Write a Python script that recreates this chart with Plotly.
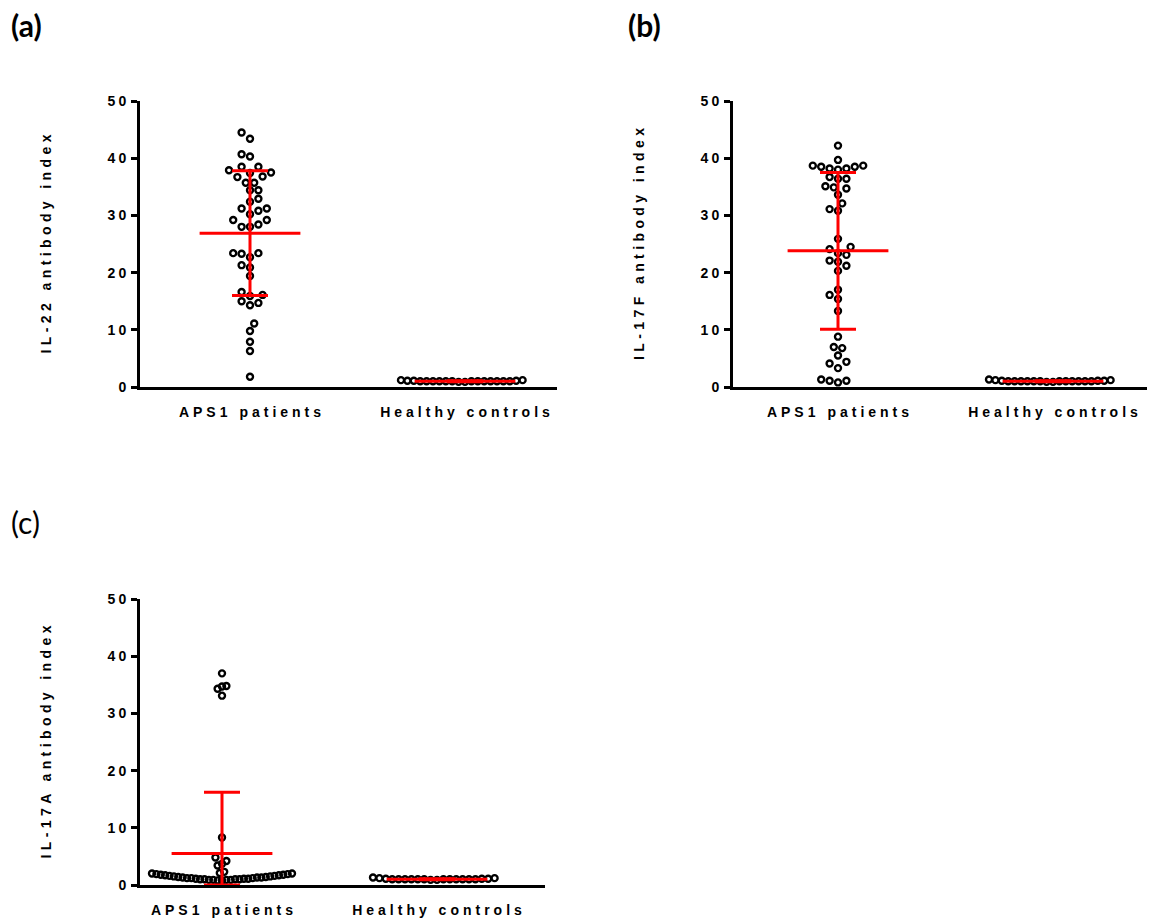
import numpy as np
import plotly.graph_objects as go

W, H = 1166, 923

categories = ["APS1 patients", "Healthy controls"]
y_titles = ["IL-22 antibody index", "IL-17F antibody index", "IL-17A antibody index"]
panel_labels = ["(a)", "(b)", "(c)"]
y_ticks = [0, 10, 20, 30, 40, 50]

il22_aps1 = [44.5, 43.4, 40.7, 40.3, 38.5, 38.5, 37.5, 37.9, 36.8, 36.7, 37.4,
             35.7, 35.7, 34.4, 34.4, 32.9, 32.4, 31.2, 31.2, 30.8, 30.2, 29.2,
             29.2, 28.0, 28.0, 28.4, 23.4, 23.4, 23.3, 22.7, 21.3, 20.9, 19.4,
             15.9, 16.6, 16.1, 15.0, 14.3, 14.7, 11.1, 9.8, 7.9, 6.3, 1.8]
il22_healthy = [0.9, 1.0, 1.0, 1.0, 1.0, 1.0, 1.0, 1.1, 1.1, 1.2, 1.2, 1.1,
                1.0, 1.0, 1.0, 1.0, 1.0, 0.9, 1.0, 1.0]

il17f_aps1 = [42.2, 39.7, 38.7, 38.5, 38.2, 38.0, 38.2, 38.5, 38.7, 36.4, 36.7,
              36.4, 34.7, 35.1, 34.9, 33.6, 32.1, 30.8, 31.1, 25.9, 24.1, 24.5,
              23.1, 23.4, 21.9, 22.1, 21.2, 20.3, 17.0, 16.1, 15.4, 13.3, 8.8,
              7.0, 6.8, 5.5, 4.1, 4.4, 3.3, 1.1, 0.8, 1.1, 1.3]
il17f_healthy = [0.9, 1.0, 1.0, 1.0, 1.0, 1.0, 1.1, 1.1, 1.2, 1.2, 1.3, 1.1,
                 1.0, 1.0, 1.0, 1.0, 1.0, 0.9, 1.0, 1.0]

il17a_aps1 = [37.0, 34.8, 34.3, 34.7, 33.1, 8.3, 4.8, 4.2, 3.4, 3.7, 2.3,
              0.8, 0.8, 0.9, 0.9, 0.9, 0.9, 1.0, 1.0, 1.0, 1.0, 1.1, 1.1,
              1.1, 1.2, 1.2, 1.2, 1.3, 1.3, 1.3, 1.4, 1.4, 1.5, 1.5, 1.6,
              1.6, 1.7, 1.7, 1.8, 1.8, 1.9, 1.9, 2.0, 2.0, 2.1]
il17a_healthy = [0.9, 1.0, 1.0, 1.0, 1.0, 1.0, 1.0, 1.1, 1.1, 1.2, 1.3, 1.2,
                 1.1, 1.0, 1.0, 1.0, 1.0, 0.9, 1.0, 1.0]

# mean and SD as drawn in the reference (red lines)
il22_mean = [26.9, 1.0]
il22_sd = [10.9, 0.1]
il17f_mean = [23.8, 1.0]
il17f_sd = [13.7, 0.1]
il17a_mean = [5.5, 1.0]
il17a_sd = [10.7, 0.1]

panels = [
    dict(groups=[il22_aps1, il22_healthy], mean=il22_mean, sd=il22_sd,
         xdom=(140, 557), ydom=(101, 387), cat_px=(250, 465), label_pos=(9, 25), label_bold=True),
    dict(groups=[il17f_aps1, il17f_healthy], mean=il17f_mean, sd=il17f_sd,
         xdom=(733, 1147), ydom=(101, 387), cat_px=(838, 1053), label_pos=(626, 25), label_bold=True),
    dict(groups=[il17a_aps1, il17a_healthy], mean=il17a_mean, sd=il17a_sd,
         xdom=(140, 545), ydom=(599, 885), cat_px=(222, 437), label_pos=(9, 522), label_bold=False),
]

PX_PER_CAT = 215.0
MARK_D = 8.4


def swarm_offsets(values, px_per_unit, d, step, max_half):
    vals = np.asarray(values, float)
    order = np.argsort(vals, kind="stable")
    placed = []
    off = np.zeros(len(vals))
    for n, i in enumerate(order):
        y = vals[i] * px_per_unit
        sign = 1 if n % 2 == 0 else -1
        k = 0
        found = None
        while found is None:
            cands = [0.0] if k == 0 else [sign * k * step, -sign * k * step]
            for c in cands:
                if all((c - px) ** 2 + (y - py) ** 2 >= d * d - 1e-6 for px, py in placed):
                    found = c
                    break
            k += 1
        placed.append((found, y))
        off[i] = found
    m = np.abs(off).max()
    if m > max_half:
        off *= max_half / m
    return off


def spaced(s, sp=4):
    return '<span style="letter-spacing:%spx">%s</span>%s' % (sp, s[:-1], s[-1])


fig = go.Figure()
tick_font = dict(family="Liberation Sans, Arial, sans-serif", size=14, color="black", weight="bold")

for p_i, p in enumerate(panels):
    sfx = "" if p_i == 0 else str(p_i + 1)
    xa, ya = "x" + sfx, "y" + sfx
    y_px_per_unit = (p["ydom"][1] - p["ydom"][0]) / 50.0
    c0 = p["cat_px"][0]
    x_lo = (p["xdom"][0] - c0) / PX_PER_CAT
    x_hi = (p["xdom"][1] - c0) / PX_PER_CAT

    for g_i, vals in enumerate(p["groups"]):
        max_half = 70 if (p_i == 2 and g_i == 0) else (64 if g_i == 1 else 1000)
        offs = swarm_offsets(vals, y_px_per_unit, MARK_D, MARK_D / 2, max_half)
        xs = g_i + offs / PX_PER_CAT
        fig.add_trace(go.Scatter(
            x=xs, y=vals, mode="markers", xaxis=xa, yaxis=ya,
            marker=dict(symbol="circle-open", size=6.0, color="black",
                        line=dict(color="black", width=2.4)),
            cliponaxis=False, showlegend=False, hoverinfo="y"))

    means = p["mean"]
    sds = p["sd"]
    minus = [min(s, m) for m, s in zip(means, sds)]
    fig.add_trace(go.Scatter(
        x=[0, 1], y=means, mode="markers", xaxis=xa, yaxis=ya,
        marker=dict(symbol="line-ew", size=72, color="red",
                    line=dict(color="red", width=3)),
        error_y=dict(type="data", array=sds, arrayminus=minus, symmetric=False,
                     color="red", thickness=3, width=18),
        cliponaxis=False, showlegend=False, hoverinfo="y"))

    xd = [p["xdom"][0] / W, p["xdom"][1] / W]
    yd = [1 - p["ydom"][1] / H, 1 - p["ydom"][0] / H]
    fig.update_layout(**{
        ("xaxis" + sfx): dict(
            domain=xd, range=[x_lo, x_hi], anchor=ya, showgrid=False, zeroline=False,
            showline=True, linecolor="black", linewidth=3, ticks="",
            tickvals=[0, 1], ticktext=[spaced(c) for c in categories],
            tickfont=tick_font, ticklabelstandoff=10, automargin=False, fixedrange=True),
        ("yaxis" + sfx): dict(
            domain=yd, range=[0, 50], anchor=xa, showgrid=False, zeroline=False,
            showline=True, linecolor="black", linewidth=3, ticks="outside",
            ticklen=6, tickwidth=3, tickcolor="black",
            tickvals=y_ticks, ticktext=[spaced(str(t), 3) if len(str(t)) > 1 else str(t) for t in y_ticks],
            tickfont=tick_font, ticklabelstandoff=2, automargin=False, fixedrange=True,
            title=dict(text=spaced(y_titles[p_i], 4.4), font=tick_font, standoff=53)),
    })

    lab = panel_labels[p_i]
    fig.add_annotation(
        x=p["label_pos"][0] / W, y=1 - p["label_pos"][1] / H, xref="paper", yref="paper",
        xanchor="left", yanchor="middle", showarrow=False,
        text=("<b>%s</b>" % lab) if p["label_bold"] else lab,
        font=dict(family="Lato, Open Sans, sans-serif", size=30, color="black"))

fig.update_layout(
    width=W, height=H, margin=dict(l=0, r=0, t=0, b=0),
    paper_bgcolor="white", plot_bgcolor="white", showlegend=False)

fig.write_html("out.html", config={"displayModeBar": False},
               post_script="document.body.style.margin='0';")
